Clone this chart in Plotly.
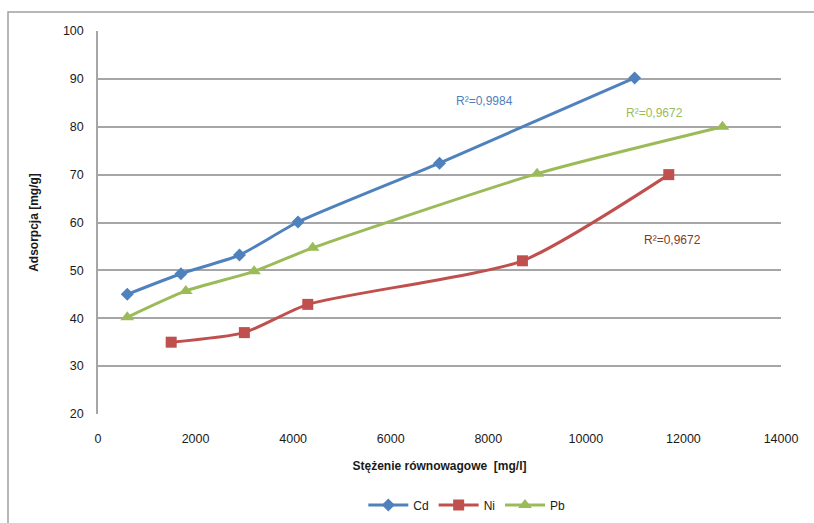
import plotly.graph_objects as go

cd_x = [600, 1700, 2900, 4100, 7000, 11000]
cd_y = [45.0, 49.3, 53.2, 60.1, 72.4, 90.2]
ni_x = [1500, 3000, 4300, 8700, 11700]
ni_y = [35.0, 37.0, 42.9, 52.0, 70.0]
pb_x = [600, 1800, 3200, 4400, 9000, 12800]
pb_y = [40.2, 45.7, 49.8, 54.7, 70.2, 80.0]

series_names = ["Cd", "Ni", "Pb"]
colors = ["#4F81BD", "#C0504D", "#9BBB59"]
symbols = ["diamond", "square", "triangle-up"]
r2_texts = ["R²=0,9984", "R²=0,9672", "R²=0,9672"]

fig = go.Figure()
for name, xs, ys, c, s, ms in zip(series_names, [cd_x, ni_x, pb_x], [cd_y, ni_y, pb_y],
                                   colors, symbols, [10, 11, 12]):
    fig.add_trace(go.Scatter(
        x=xs, y=ys, name=name, mode="lines+markers",
        line=dict(color=c, width=3, shape="spline", smoothing=0.6),
        marker=dict(symbol=s, size=ms, color=c),
    ))

fig.add_annotation(x=7930, y=85.4, text=r2_texts[0], showarrow=False,
                   font=dict(color="#4F81BD", size=12, family="Liberation Sans"), xanchor="center")
fig.add_annotation(x=11410, y=82.9, text=r2_texts[2], showarrow=False,
                   font=dict(color="#9BBB59", size=12, family="Liberation Sans"), xanchor="center")
fig.add_annotation(x=11780, y=56.4, text=r2_texts[1], showarrow=False,
                   font=dict(color="#7F3A2E", size=12, family="Liberation Sans"), xanchor="center")

fig.add_shape(type="rect", xref="paper", yref="paper",
              x0=(8 - 98) / 683, x1=(830 - 98) / 683,
              y0=(414 - 540) / 383, y1=(414 - 12) / 383,
              line=dict(color="#A0A0A0", width=1.5), fillcolor="rgba(0,0,0,0)", layer="below")

fig.update_layout(
    width=814, height=523,
    margin=dict(l=98, r=33, t=31, b=109, autoexpand=False),
    paper_bgcolor="white", plot_bgcolor="white",
    font=dict(family="Liberation Sans", size=12, color="#1a1a1a"),
    showlegend=True,
    legend=dict(orientation="h", x=0.54, xanchor="center", yref="container",
                y=(523 - 505) / 523, yanchor="middle",
                font=dict(size=12), itemwidth=40),
    xaxis=dict(range=[0, 14000], dtick=2000, tickformat="d", showgrid=False, zeroline=False,
               showline=False, ticks="outside", ticklen=13, tickcolor="rgba(0,0,0,0)",
               tickfont=dict(size=12.5), automargin=False,
               title=dict(text="<b>Stężenie równowagowe  [mg/l]</b>", font=dict(size=12), standoff=16)),
    yaxis=dict(range=[20, 100], dtick=10, showgrid=True, gridcolor="#A6A6A6", gridwidth=1.5,
               zeroline=False, showline=True, linecolor="#A6A6A6", linewidth=1.5,
               ticks="outside", ticklen=10, tickcolor="rgba(0,0,0,0)",
               tickfont=dict(size=12.5), automargin=False,
               title=dict(text="<b>Adsorpcja [mg/g]</b>", font=dict(size=12), standoff=22)),
)

fig.write_html("out.html")
